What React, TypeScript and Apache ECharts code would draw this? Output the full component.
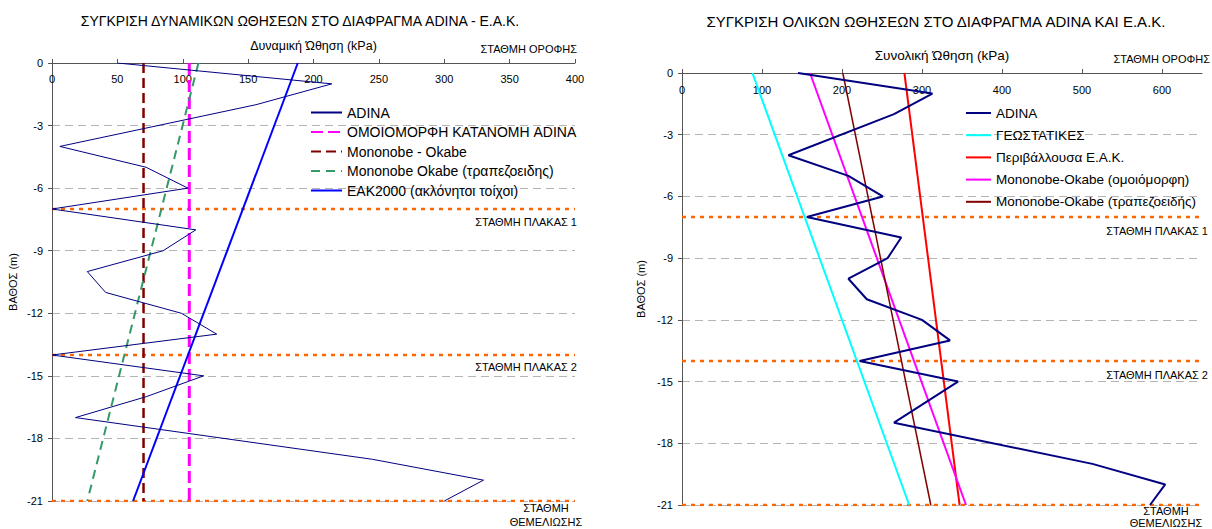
import React, { useEffect, useRef } from "react";
import * as echarts from "echarts";

// ---------- DATA ----------
const FONT = "Liberation Sans, Arial, sans-serif";

// Left chart: dynamic thrusts
const leftTitle = "ΣΥΓΚΡΙΣΗ ΔΥΝΑΜΙΚΩΝ ΩΘΗΣΕΩΝ ΣΤΟ ΔΙΑΦΡΑΓΜΑ ADINA - Ε.Α.Κ.";
const leftXName = "Δυναμική Ώθηση (kPa)";
const adinaDepthsL = [0, -1, -2, -4, -5, -6, -7, -8, -9, -10, -11, -12, -13, -14, -15, -16, -17, -19, -20, -21];
const adinaValuesL = [50, 214, 156, 6, 72, 104, 0, 110, 85, 27, 41, 99, 126, 0, 116, 72, 18, 245, 330, 300];
const lineDepths = [0, -21];
const uniformAdinaL = [105, 105];
const mononobeL = [70, 70];
const mononobeTrapL = [112, 27];
const eak2000L = [188, 62];

// Right chart: total thrusts
const rightTitle = "ΣΥΓΚΡΙΣΗ ΟΛΙΚΩΝ ΩΘΗΣΕΩΝ ΣΤΟ ΔΙΑΦΡΑΓΜΑ ADINA ΚΑΙ Ε.Α.Κ.";
const rightXName = "Συνολική Ώθηση (kPa)";
const adinaDepthsR = [0, -1, -2, -4, -5, -6, -7, -8, -9, -10, -11, -12, -13, -14, -15, -16, -17, -19, -20, -21];
const adinaValuesR = [145, 313, 265, 133, 208, 251, 156, 274, 257, 208, 231, 300, 335, 222, 345, 305, 265, 513, 604, 585];
const geostaticR = [88, 284];
const envelopeR = [278, 347];
const moUniformR = [160, 355];
const moTrapR = [201, 311];

const levels = [-7, -14, -21];
const yName = "ΒΑΘΟΣ (m)";

const zip = (xs: number[], ys: number[]) => xs.map((x, i) => [x, ys[i]]);

export default function App() {
  const ref = useRef<HTMLDivElement>(null);
  useEffect(() => {
    if (!ref.current) return;
    const chart = echarts.init(ref.current, undefined, { renderer: "svg" });

    const xAxisBase = (max: number, interval: number, name: string, gridIndex: number, margin: number, nameSize: number) => ({
      type: "value",
      gridIndex,
      position: "top",
      min: 0,
      max,
      interval,
      name,
      nameLocation: "middle",
      nameGap: 11,
      nameTextStyle: { fontFamily: FONT, fontSize: nameSize, color: "#000" },
      axisLine: { show: true, lineStyle: { color: "#555", width: 1 } },
      axisTick: { show: true, length: 4, lineStyle: { color: "#555" } },
      axisLabel: { inside: true, margin, fontFamily: FONT, fontSize: 11, color: "#000", showMaxLabel: max === 400 },
      splitLine: { show: false },
    });
    const yAxisBase = (gridIndex: number, nameGap: number) => ({
      type: "value",
      gridIndex,
      min: -21,
      max: 0,
      interval: 3,
      name: yName,
      nameLocation: "middle",
      nameGap,
      nameRotate: 90,
      nameTextStyle: { fontFamily: FONT, fontSize: 11, color: "#000" },
      axisLine: { show: true, onZero: false, lineStyle: { color: "#555", width: 1 } },
      axisTick: { show: true, length: 4, lineStyle: { color: "#555" } },
      axisLabel: { margin: 9, fontFamily: FONT, fontSize: 11, color: "#000" },
      splitLine: { show: true, lineStyle: { color: "#b4b4b4", type: [8, 5], width: 1 } },
    });

    const levelSeries = (gridIndex: number, max: number) =>
      levels.map((lv) => ({
        type: "line",
        xAxisIndex: gridIndex,
        yAxisIndex: gridIndex,
        data: [[0, lv], [max, lv]],
        symbol: "none",
        silent: true,
        lineStyle: { color: "#ff6600", width: 2.5, type: [4, 5] },
        z: 1,
      }));

    const txt = (text: string, x: number, y: number, align: string, size = 11, lh = 13) => ({
      type: "text",
      x,
      y,
      silent: true,
      style: {
        text,
        textAlign: align,
        textVerticalAlign: "middle",
        fontFamily: FONT,
        fontSize: size,
        fill: "#000",
        lineHeight: lh,
      },
    });

    const line = (
      name: string,
      idx: number,
      xs: number[],
      ys: number[],
      color: string,
      width: number,
      type: any = "solid",
      z = 4
    ) => ({
      name,
      type: "line",
      xAxisIndex: idx,
      yAxisIndex: idx,
      symbol: "none",
      data: zip(xs, ys),
      lineStyle: { color, width, type },
      itemStyle: { color, opacity: 0 },
      z,
    });

    chart.setOption({
      animation: false,
      backgroundColor: "#fff",
      grid: [
        { left: 52, top: 63, width: 523, height: 438 },
        { left: 682, top: 73, width: 520, height: 432 },
      ],
      xAxis: [xAxisBase(400, 50, leftXName, 0, 10, 12.5), xAxisBase(650, 100, rightXName, 1, 11, 13.5)],
      yAxis: [yAxisBase(0, 34), yAxisBase(1, 36)],
      legend: [
        {
          orient: "vertical",
          left: 310,
          top: 105,
          padding: 0,
          itemWidth: 31,
          itemHeight: 15,
          itemGap: 4.5,
          itemStyle: { opacity: 0 },
          textStyle: { fontFamily: FONT, fontSize: 14, color: "#000", lineHeight: 15 },
          data: [
            "ADINA",
            "ΟΜΟΙΟΜΟΡΦΗ ΚΑΤΑΝΟΜΗ ADINA",
            "Mononobe - Okabe",
            "Mononobe Okabe (τραπεζοειδης)",
            "ΕΑΚ2000 (ακλόνητοι τοίχοι)",
          ],
        },
        {
          orient: "vertical",
          left: 965,
          top: 105,
          width: 247,
          padding: 0,
          itemWidth: 25,
          itemHeight: 16,
          itemGap: 6.2,
          itemStyle: { opacity: 0 },
          textStyle: { fontFamily: FONT, fontSize: 13.5, color: "#000", lineHeight: 16 },
          data: [
            { name: "ADINA", lineStyle: { width: 2 } },
            "ΓΕΩΣΤΑΤΙΚΕΣ",
            "Περιβάλλουσα Ε.Α.Κ.",
            "Mononobe-Okabe (ομοιόμορφη)",
            "Mononobe-Okabe (τραπεζοειδής)",
          ],
        },
      ],
      graphic: [
        txt(leftTitle, 300, 21, "center", 14),
        txt(rightTitle, 936, 21, "center", 15),
        txt("ΣΤΑΘΜΗ ΟΡΟΦΗΣ", 577, 49, "right"),
        txt("ΣΤΑΘΜΗ ΠΛΑΚΑΣ 1", 577, 222, "right"),
        txt("ΣΤΑΘΜΗ ΠΛΑΚΑΣ 2", 577, 367, "right"),
        txt("ΣΤΑΘΜΗ\nΘΕΜΕΛΙΩΣΗΣ", 546, 515, "center", 11, 14),
        txt("ΣΤΑΘΜΗ ΟΡΟΦΗΣ", 1210, 59, "right"),
        txt("ΣΤΑΘΜΗ ΠΛΑΚΑΣ 1", 1208, 231, "right"),
        txt("ΣΤΑΘΜΗ ΠΛΑΚΑΣ 2", 1208, 375, "right"),
        txt("ΣΤΑΘΜΗ\nΘΕΜΕΛΙΩΣΗΣ", 1166, 516.5, "center", 11, 12),
      ],
      series: [
        ...levelSeries(0, 400),
        ...levelSeries(1, 650),
        line("ADINA", 0, adinaValuesL, adinaDepthsL, "#000080", 1, "solid", 5),
        line("ΟΜΟΙΟΜΟΡΦΗ ΚΑΤΑΝΟΜΗ ADINA", 0, uniformAdinaL, lineDepths, "#ff00ff", 3, [12, 5]),
        line("Mononobe - Okabe", 0, mononobeL, lineDepths, "#800000", 2.5, [10, 5]),
        line("Mononobe Okabe (τραπεζοειδης)", 0, mononobeTrapL, lineDepths, "#339966", 2, [9, 6]),
        line("ΕΑΚ2000 (ακλόνητοι τοίχοι)", 0, eak2000L, lineDepths, "#0000ff", 2),
        line("ADINA", 1, adinaValuesR, adinaDepthsR, "#000080", 2, "solid", 5),
        line("ΓΕΩΣΤΑΤΙΚΕΣ", 1, geostaticR, lineDepths, "#00ffff", 2),
        line("Περιβάλλουσα Ε.Α.Κ.", 1, envelopeR, lineDepths, "#ff0000", 2),
        line("Mononobe-Okabe (ομοιόμορφη)", 1, moUniformR, lineDepths, "#ff00ff", 2),
        line("Mononobe-Okabe (τραπεζοειδής)", 1, moTrapR, lineDepths, "#800000", 1.5),
      ],
    });
    return () => chart.dispose();
  }, []);

  return (
    <div
      ref={ref}
      style={{ position: "fixed", left: 0, top: 0, width: 1212, height: 529, background: "#fff" }}
    />
  );
}
